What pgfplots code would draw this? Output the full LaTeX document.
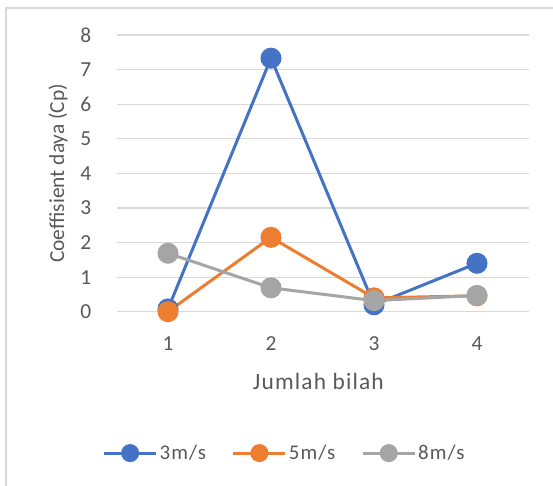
\documentclass[border=0pt]{standalone}
\usepackage{fontspec}
\setmainfont{Carlito}
\newfontfamily\spaced[LetterSpace=5]{Carlito}
\usepackage{pgfplots}
\pgfplotsset{compat=1.18}

\definecolor{s3}{HTML}{4472C4}
\definecolor{s5}{HTML}{ED7D31}
\definecolor{s8}{HTML}{A5A5A5}
\definecolor{gridc}{HTML}{D9D9D9}
\definecolor{txt}{HTML}{595959}

\begin{document}
\begin{tikzpicture}
\path[use as bounding box] (0,0) rectangle (553bp,486bp);
% chart frame
\draw[gridc, line width=1.3bp] (6bp,-2bp) -- (6bp,478bp) -- (555bp,478bp);

\begin{axis}[
  at={(116.5bp,174.3bp)}, anchor=south west,
  scale only axis,
  width=412bp, height=276.7bp,
  xmin=0.5, xmax=4.5, ymin=0, ymax=8,
  xtick={1,2,3,4}, ytick={0,1,...,8},
  axis line style={draw=none},
  major tick length=0pt,
  ymajorgrids, grid style={gridc, line width=1.2bp},
  /pgf/number format/assume math mode=true,
  tick label style={font=\fontsize{21.5}{24}\selectfont, text=txt, inner sep=0pt},
  yticklabel style={anchor=east, xshift=-25bp},
  xticklabel style={anchor=north, yshift=-24.5bp},
  xlabel={Jumlah bilah},
  ylabel={Coeffisient daya (Cp)},
  label style={text=txt, inner sep=0pt},
  xlabel style={font=\spaced\fontsize{23.5}{26}\selectfont,
    at={(axis description cs:0.49,0)}, anchor=center, yshift=-70bp},
  ylabel style={font=\fontsize{21.5}{24}\selectfont,
    at={(axis description cs:0,0.5)}, anchor=center, yshift=58.5bp},
  every axis plot/.append style={line width=3bp, mark=*, mark size=9bp},
  legend columns=3,
  legend style={at={(axis description cs:0.408,-0.511)}, anchor=center,
    draw=none, fill=none, font=\spaced\fontsize{21}{24}\selectfont, text=txt,
    /tikz/every even column/.append style={column sep=24bp}},
  legend image code/.code={%
    \draw[mark repeat=2, mark phase=2, #1, mark size=7.5bp]
      plot coordinates {(0bp,0bp) (26bp,0bp) (52bp,0bp)};},
]
\addplot[color=s3, mark options={fill=s3, draw=s3}] coordinates {(1,0.08) (2,7.33) (3,0.20) (4,1.40)};
\addlegendentry{3m/s}
\addplot[color=s5, mark options={fill=s5, draw=s5}] coordinates {(1,0.00) (2,2.15) (3,0.40) (4,0.46)};
\addlegendentry{5m/s}
\addplot[color=s8, mark options={fill=s8, draw=s8}] coordinates {(1,1.69) (2,0.69) (3,0.32) (4,0.47)};
\addlegendentry{8m/s}
\end{axis}
\end{tikzpicture}
\end{document}
